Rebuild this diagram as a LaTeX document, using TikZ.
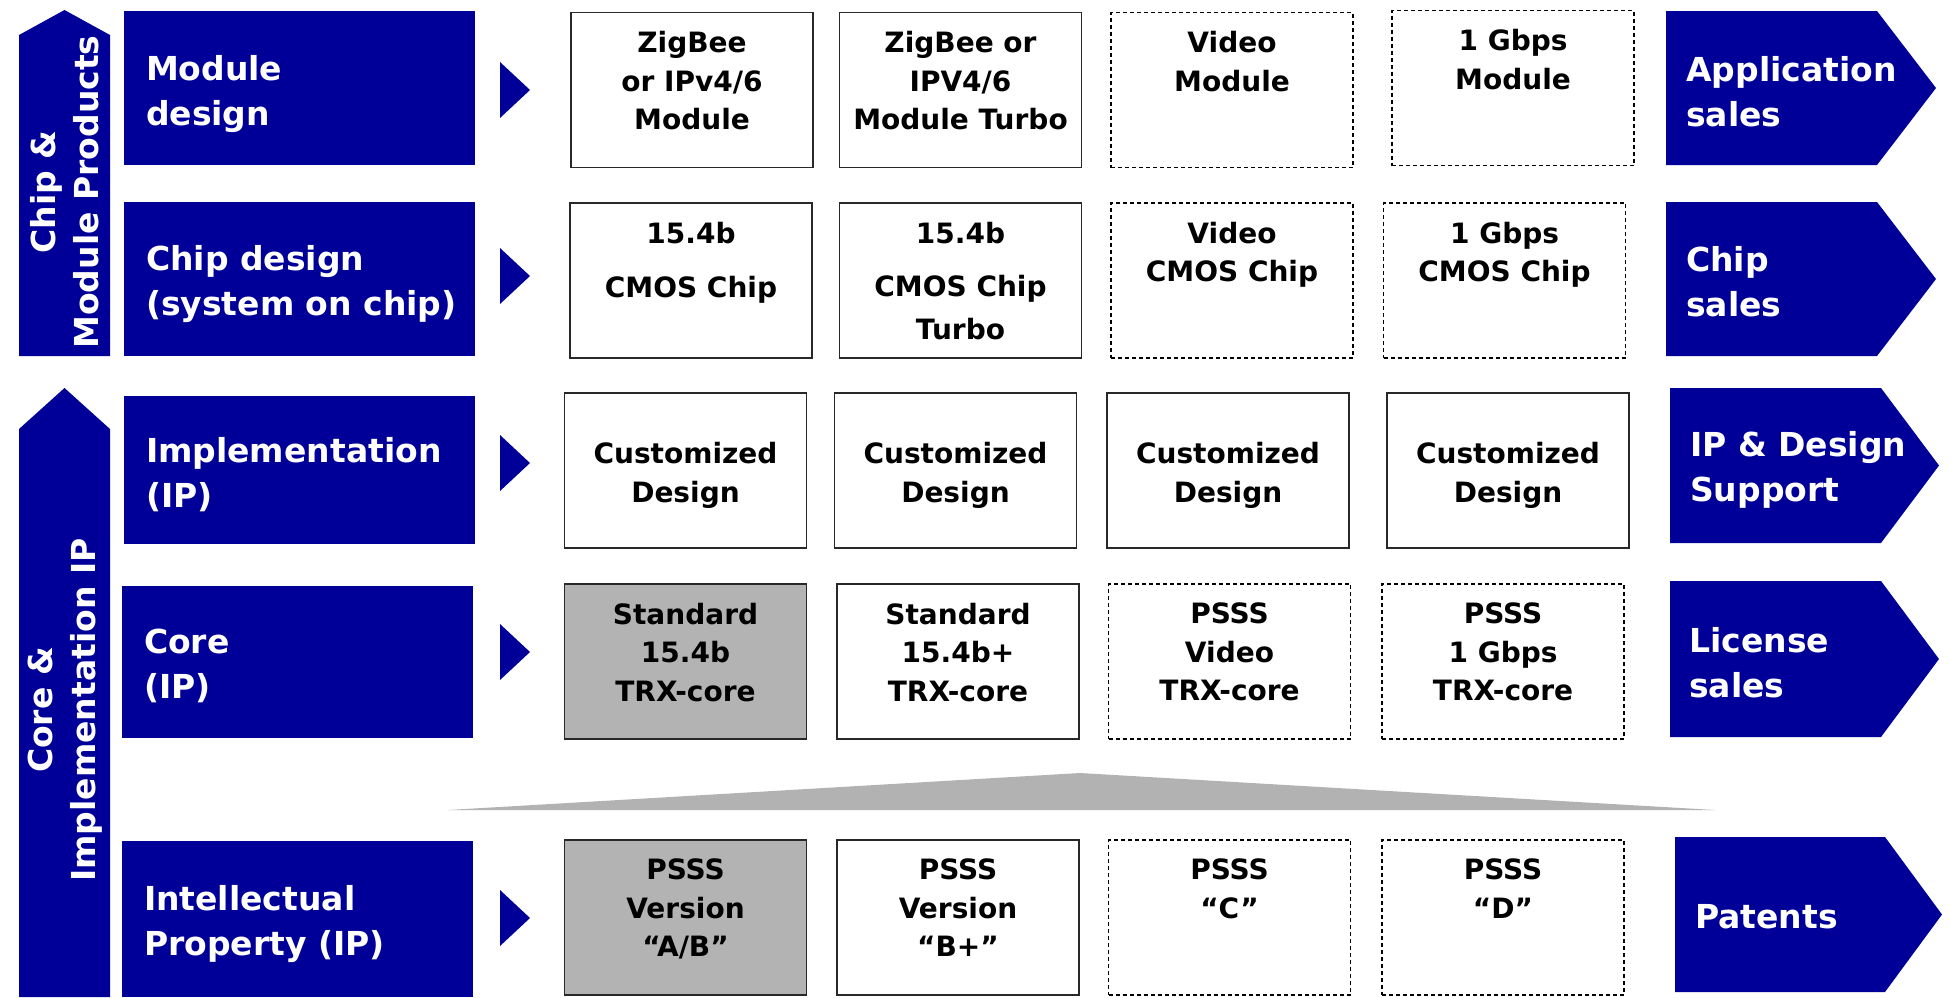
\documentclass[tikz,border=0pt]{standalone}
\usepackage{fontspec}
\setmainfont{DejaVu Sans}
\definecolor{navy}{RGB}{0,0,153}
\definecolor{cellgrey}{RGB}{179,179,179}
\definecolor{wedgegrey}{RGB}{178,178,178}
\definecolor{rim}{RGB}{40,40,40}
\tikzset{
  lblfont/.style={font=\fontsize{33}{45}\selectfont\bfseries},
  cellfont/.style={font=\fontsize{28}{38.5}\selectfont\bfseries},
  bar/.style={fill=navy, draw=none, inner sep=0pt, minimum width=351pt},
  lbltext/.style={lblfont, text=white, align=left, inner sep=0pt, anchor=west},
  vtext/.style={font=\fontsize{33}{43}\selectfont\bfseries, text=white, align=center, inner sep=0pt, rotate=90},
  cell/.style={draw=rim, line width=1.7pt, fill=white, inner sep=0pt,
               minimum width=242pt, minimum height=155pt},
  plan/.style={cell, draw=black, dash pattern=on 4pt off 3pt, line width=1.3pt},
  grey/.style={cell, fill=cellgrey},
  celltext/.style={cellfont, align=center, inner sep=0pt, anchor=north,
                   execute at begin node={\rule{0pt}{28pt}}},
  midtext/.style={cellfont, align=center, inner sep=0pt},
  pointer/.style={fill=navy},
}
\begin{document}
\begin{tikzpicture}[x=1pt, y=-1pt]
\useasboundingbox (0,0) rectangle (1951,997);

% upward arrows on the left
\fill[navy] (19,35) -- (64.5,10) -- (110,35) -- (110,356) -- (19,356) -- cycle;
\fill[navy] (19,429) -- (64.5,388) -- (110,429) -- (110,997) -- (19,997) -- cycle;
\node[vtext] (chipmod) at (65,192) {Chip \&\\Module Products};
\node[vtext] (coreimpl) at (65,710) {Core \&\\Implementation IP};

% stage bars
\node[bar, minimum height=154pt] (m1) at (299.5,88) {};
\node[bar, minimum height=154pt] (m2) at (299.5,279) {};
\node[bar, minimum height=148pt] (m3) at (299.5,470) {};
\node[bar, minimum height=152pt] (m4) at (297.5,662) {};
\node[bar, minimum height=156pt] (m5) at (297.5,919) {};
\node[lbltext] (t1) at ([xshift=22pt,yshift=-6pt]m1.west) {Module\\design};
\node[lbltext] (t2) at ([xshift=22pt,yshift=-5pt]m2.west) {Chip design\\(system on chip)};
\node[lbltext] (t3) at ([xshift=22pt,yshift=-5pt]m3.west) {Implementation\\(IP)};
\node[lbltext] (t4) at ([xshift=22pt,yshift=-4pt]m4.west) {Core\\(IP)};
\node[lbltext] (t5) at ([xshift=22pt,yshift=-5pt]m5.west) {Intellectual\\Property (IP)};

% small pointers
\foreach \yc in {90,276,463,652,918}
  \fill[pointer] (500,\yc-28) -- (530,\yc) -- (500,\yc+28) -- cycle;

% row 1: modules
\node[cell] (c11) at (692,90) {};
\node[cell] (c12) at (960.5,90) {};
\node[plan] (c13) at (1232,90) {};
\node[plan] (c14) at (1513,88) {};
\node[celltext] (x11) at ([yshift=-19.5pt]c11.north) {ZigBee\\or IPv4/6\\Module};
\node[celltext] (x12) at ([yshift=-19.5pt]c12.north) {ZigBee or\\IPV4/6\\Module Turbo};
\node[celltext] (x13) at ([yshift=-19.5pt]c13.north) {Video\\Module};
\node[celltext] (x14) at ([yshift=-19.5pt]c14.north) {1 Gbps\\Module};

% row 2: chips
\node[cell] (c21) at (691,280.5) {};
\node[cell] (c22) at (960.5,280.5) {};
\node[plan] (c23) at (1232,280.5) {};
\node[plan] (c24) at (1504.5,280.5) {};
\node[celltext] (x21) at ([yshift=-19.5pt]c21.north) {15.4b\\[16pt]CMOS Chip};
\node[celltext] (x22) at ([yshift=-19.5pt]c22.north) {15.4b\\[15pt]CMOS Chip\\[4pt]Turbo};
\node[celltext] (x23) at ([yshift=-19.5pt]c23.north) {Video\\CMOS Chip};
\node[celltext] (x24) at ([yshift=-19.5pt]c24.north) {1 Gbps\\CMOS Chip};

% row 3: implementation
\node[cell] (c31) at (685.5,470.5) {};
\node[cell] (c32) at (955.5,470.5) {};
\node[cell] (c33) at (1228,470.5) {};
\node[cell] (c34) at (1508,470.5) {};
\node[midtext] (x31) at ([yshift=-5pt]c31.center) {Customized\\Design};
\node[midtext] (x32) at ([yshift=-5pt]c32.center) {Customized\\Design};
\node[midtext] (x33) at ([yshift=-5pt]c33.center) {Customized\\Design};
\node[midtext] (x34) at ([yshift=-5pt]c34.center) {Customized\\Design};

% row 4: cores
\node[grey] (c41) at (685.5,661.5) {};
\node[cell] (c42) at (958,661.5) {};
\node[plan] (c43) at (1229.5,661.5) {};
\node[plan] (c44) at (1503,661.5) {};
\node[celltext] (x41) at ([yshift=-19.5pt]c41.north) {Standard\\15.4b\\TRX-core};
\node[celltext] (x42) at ([yshift=-19.5pt]c42.north) {Standard\\15.4b+\\TRX-core};
\node[celltext] (x43) at ([yshift=-19.5pt]c43.north) {PSSS\\Video\\TRX-core};
\node[celltext] (x44) at ([yshift=-19.5pt]c44.north) {PSSS\\1 Gbps\\TRX-core};

% wedge between cores and patents
\fill[wedgegrey] (448,810) -- (1080,773) -- (1715,810) -- cycle;

% row 5: intellectual property
\node[grey] (c51) at (685.5,917.5) {};
\node[cell] (c52) at (958,917.5) {};
\node[plan] (c53) at (1229.5,917.5) {};
\node[plan] (c54) at (1503,917.5) {};
\node[celltext] (x51) at ([yshift=-19.5pt]c51.north) {PSSS\\Version\\“A/B”};
\node[celltext] (x52) at ([yshift=-19.5pt]c52.north) {PSSS\\Version\\“B+”};
\node[celltext] (x53) at ([yshift=-19.5pt]c53.north) {PSSS\\“C”};
\node[celltext] (x54) at ([yshift=-19.5pt]c54.north) {PSSS\\“D”};

% revenue arrows on the right
\fill[navy] (1666,11) -- (1877,11) -- (1936,88) -- (1877,165) -- (1666,165) -- cycle;
\fill[navy] (1666,202) -- (1877,202) -- (1936,279) -- (1877,356) -- (1666,356) -- cycle;
\fill[navy] (1670,388) -- (1881,388) -- (1939,465.5) -- (1881,543) -- (1670,543) -- cycle;
\fill[navy] (1670,581) -- (1881,581) -- (1939,659) -- (1881,737) -- (1670,737) -- cycle;
\fill[navy] (1675,837) -- (1885,837) -- (1942,914.5) -- (1885,992) -- (1675,992) -- cycle;
\coordinate (s1) at (1686,92);
\coordinate (s2) at (1686,282);
\coordinate (s3) at (1690,470);
\coordinate (s4) at (1689,663);
\coordinate (s5) at (1695,917);
\node[lbltext] (r1) at (s1) {Application\\sales};
\node[lbltext] (r2) at (s2) {Chip\\sales};
\node[lbltext] (r3) at (s3) {IP \& Design\\Support};
\node[lbltext] (r4) at (s4) {License\\sales};
\node[lbltext] (r5) at (s5) {Patents};
\end{tikzpicture}
\end{document}
